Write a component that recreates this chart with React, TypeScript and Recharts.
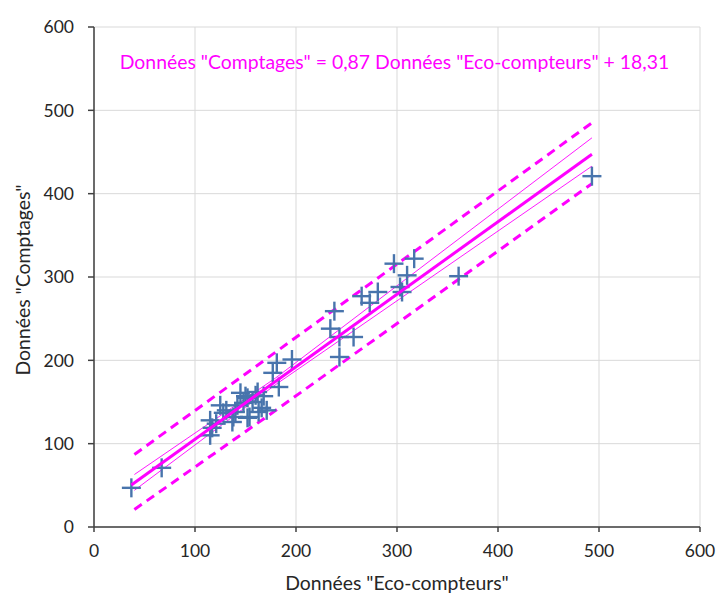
import React from "react";
import { ScatterChart, Scatter, XAxis, YAxis, CartesianGrid } from "recharts";

// Observed data: Eco-compteurs (x) vs Comptages (y)
const ecoCompteurs = [37, 67, 115, 115, 117, 121, 125, 128, 131, 137, 138, 140, 142, 145, 148, 150, 152, 152, 154, 157, 160, 162, 163, 166, 168, 171, 177, 183, 181, 196, 234, 238, 243, 243, 257, 265, 273, 281, 297, 303, 305, 310, 317, 361, 493];
const comptages = [47, 71, 110, 128, 119, 124, 146, 137, 140, 126, 132, 138, 146, 161, 149, 157, 155, 131, 132, 150, 158, 162, 138, 143, 157, 140, 185, 168, 197, 201, 238, 259, 228, 204, 228, 277, 269, 282, 316, 288, 282, 302, 322, 301, 421];

// Regression line and bands
const regX = [37, 493];
const regY = [50.5, 447.2];
const bandX = [40, 180, 493];
const ciUpper = [63, 179, 467];
const ciLower = [44, 171, 433];
const piUpper = [87, 210, 485];
const piLower = [21, 140, 412];

const axisTicks = [0, 100, 200, 300, 400, 500, 600];

const points = ecoCompteurs.map((x, i) => ({ x, y: comptages[i] }));
const toPts = (xs: number[], ys: number[]) => xs.map((x, i) => ({ x, y: ys[i] }));
const regPts = toPts(regX, regY);
const ciUpPts = toPts(bandX, ciUpper);
const ciLoPts = toPts(bandX, ciLower);
const piUpPts = toPts(bandX, piUpper);
const piLoPts = toPts(bandX, piLower);

const BLUE = "#4874AC";
const MAG = "#FF00FF";
const FONT = "Lato, 'Noto Sans', sans-serif";
const TEXT = "#262626";

const Cross = (props: any) => {
  const { cx, cy } = props;
  if (cx == null || cy == null) return <g />;
  const h = 9.5;
  return (
    <g>
      <line x1={cx - h} y1={cy} x2={cx + h} y2={cy} stroke={BLUE} strokeWidth={2.4} />
      <line x1={cx} y1={cy - h} x2={cx} y2={cy + h} stroke={BLUE} strokeWidth={2.4} />
    </g>
  );
};

const NoShape = () => <g />;

const tickStyle = { fontFamily: FONT, fontSize: 17.5, fill: TEXT };

export default function App() {
  return (
    <div style={{ position: "absolute", left: 0, top: 0, width: 717, height: 596, background: "#fff" }}>
      <ScatterChart width={717} height={596} margin={{ top: 27, right: 17, bottom: 0, left: 0 }}>
        <CartesianGrid stroke="#D9D9D9" strokeWidth={1} />
        <XAxis
          type="number"
          dataKey="x"
          domain={[0, 600]}
          ticks={axisTicks}
          height={69}
          tick={tickStyle}
          tickSize={5}
          tickMargin={13}
          axisLine={{ stroke: "#404040", strokeWidth: 1.5 }}
          tickLine={{ stroke: "#404040", strokeWidth: 1.5 }}
          allowDataOverflow
        />
        <YAxis
          type="number"
          dataKey="y"
          domain={[0, 600]}
          ticks={axisTicks}
          width={94}
          tick={tickStyle}
          tickSize={6}
          tickMargin={14}
          axisLine={{ stroke: "#404040", strokeWidth: 1.5 }}
          tickLine={{ stroke: "#404040", strokeWidth: 1.5 }}
          allowDataOverflow
        />
        <Scatter data={piUpPts} shape={NoShape} line={{ stroke: MAG, strokeWidth: 3, strokeDasharray: "9 6" }} isAnimationActive={false} />
        <Scatter data={piLoPts} shape={NoShape} line={{ stroke: MAG, strokeWidth: 3, strokeDasharray: "9 6" }} isAnimationActive={false} />
        <Scatter data={ciUpPts} shape={NoShape} line={{ stroke: MAG, strokeWidth: 0.9 }} isAnimationActive={false} />
        <Scatter data={ciLoPts} shape={NoShape} line={{ stroke: MAG, strokeWidth: 0.9 }} isAnimationActive={false} />
        <Scatter data={points} shape={Cross} isAnimationActive={false} />
        <Scatter data={regPts} shape={NoShape} line={{ stroke: MAG, strokeWidth: 3 }} isAnimationActive={false} />
      </ScatterChart>
      <svg width={717} height={596} style={{ position: "absolute", left: 0, top: 0, pointerEvents: "none" }}>
        <text x={394.5} y={69} textAnchor="middle" fontFamily={FONT} fontSize={19.4} fill={MAG}>
          Données "Comptages" = 0,87 Données "Eco-compteurs" + 18,31
        </text>
        <text x={397} y={590} textAnchor="middle" fontFamily={FONT} fontSize={19.4} fill={TEXT}>
          Données "Eco-compteurs"
        </text>
        <text
          x={0}
          y={0}
          transform="translate(30,280) rotate(-90)"
          textAnchor="middle"
          fontFamily={FONT}
          fontSize={19.4}
          fill={TEXT}
        >
          Données "Comptages"
        </text>
      </svg>
    </div>
  );
}
